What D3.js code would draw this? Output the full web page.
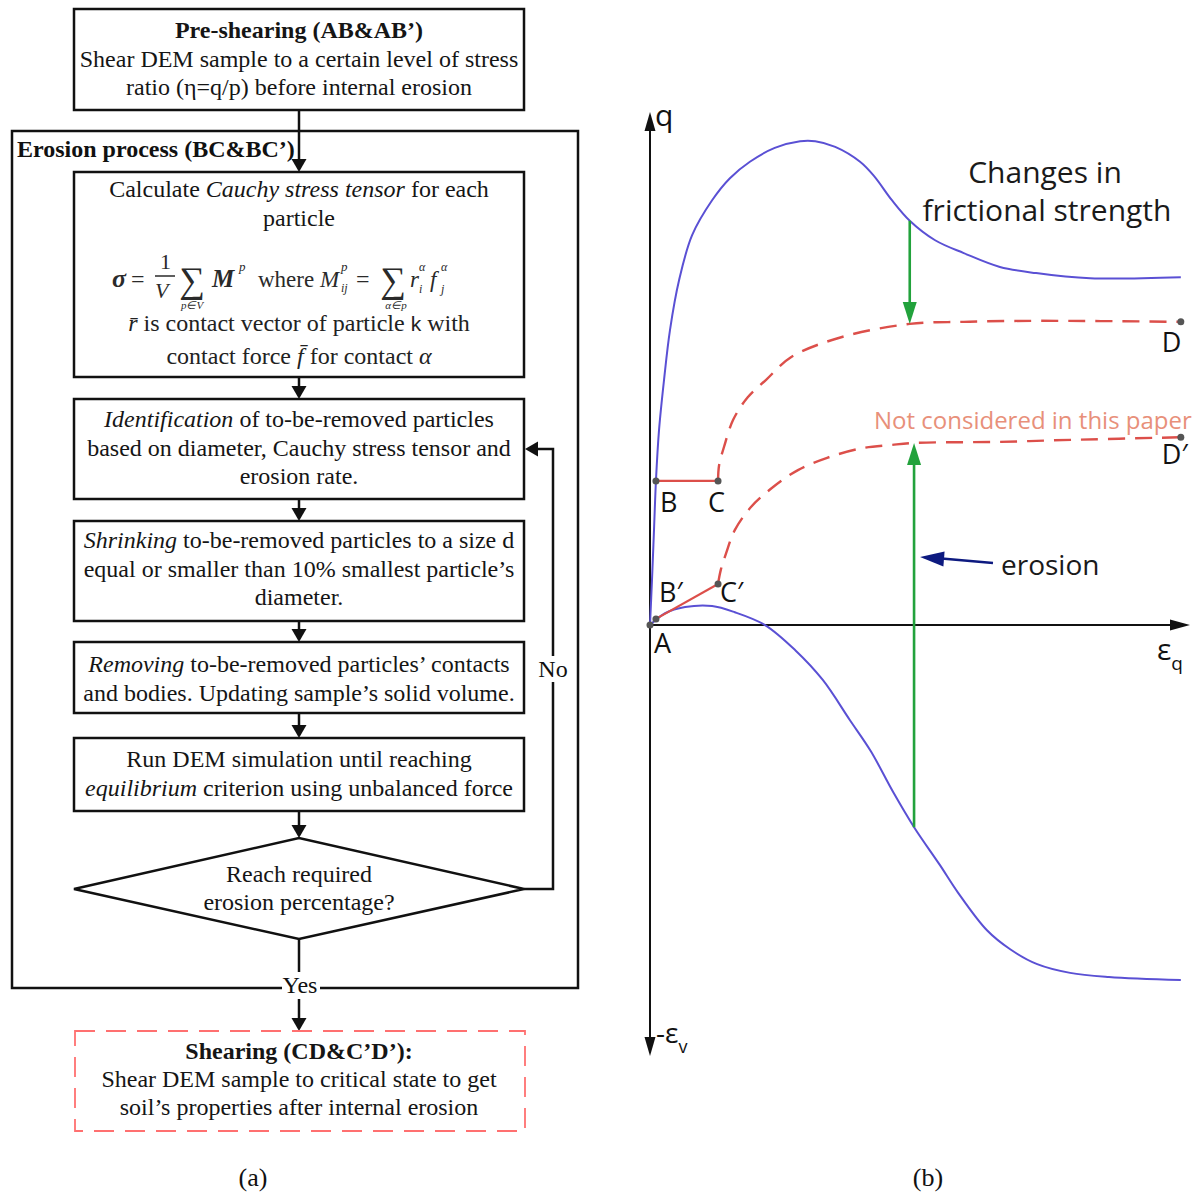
<!DOCTYPE html>
<html>
<head>
<meta charset="utf-8">
<script src="https://cdn.jsdelivr.net/npm/d3@7"></script>
<style>
body { margin: 0; background: #fff; }
</style>
</head>
<body>
<div id="fig"></div>
<script>
const width = 1197;
const height = 1198;

// ---- (a) flowchart text, each line is a list of [text, style] runs
const preShearing = [
    [["Pre-shearing (AB&AB’)", "b"]],
    [["Shear DEM sample to a certain level of stress", ""]],
    [["ratio (η=q/p) before internal erosion", ""]]
];
const erosionLabel = "Erosion process (BC&BC’)";
const cauchyTop = [
    [["Calculate ", ""], ["Cauchy stress tensor", "i"], [" for each", ""]],
    [["particle", ""]]
];
const cauchyBottom = [
    [["r\u0304", "i"], [" is contact vector of particle ", ""], ["k", "s"], [" with", ""]],
    [["contact force ", ""], ["f\u0304", "i"], [" for contact ", ""], ["α", "i"]]
];
const identification = [
    [["Identification", "i"], [" of to-be-removed particles", ""]],
    [["based on diameter, Cauchy stress tensor and", ""]],
    [["erosion rate.", ""]]
];
const shrinking = [
    [["Shrinking", "i"], [" to-be-removed particles to a size d", ""]],
    [["equal or smaller than 10% smallest particle’s", ""]],
    [["diameter.", ""]]
];
const removing = [
    [["Removing", "i"], [" to-be-removed particles’ contacts", ""]],
    [["and bodies. Updating sample’s solid volume.", ""]]
];
const running = [
    [["Run DEM simulation until reaching", ""]],
    [["equilibrium", "i"], [" criterion using unbalanced force", ""]]
];
const decision = [
    [["Reach required", ""]],
    [["erosion percentage?", ""]]
];
const shearing = [
    [["Shearing (CD&C’D’):", "b"]],
    [["Shear DEM sample to critical state to get", ""]],
    [["soil’s properties after internal erosion", ""]]
];

// ---- (b) stress-strain schematic, [eps_q, q] and [eps_q, -eps_v]
const peakCurve = [[0,0],[0.37,8.8],[0.74,18.5],[1.11,28.3],[1.67,38],[2.6,47.8],[3.7,57.5],[5.4,67.3],
    [7.8,76],[11.5,82.8],[14.8,87.1],[18.5,90.3],[23.1,93],[27.8,94.3],[30.6,94.3],[34.3,93.2],
    [38.9,90.3],[41.5,87.5],[44.8,82.8],[48.1,78.8],[52.8,75],[58.1,72.5],[64.8,69.8],[71.5,68.6],
    [81.5,67.6],[98.3,67.8]];
const volumeCurve = [[0,0],[2.8,2.3],[6.5,3.5],[11.5,3.7],[15.7,2.5],[21.3,0],[26.9,-4.9],[32,-10.7],
    [37,-18.5],[40.9,-24.6],[45,-32.5],[48.9,-39.4],[53.7,-46.8],[57,-52.1],[62.4,-59.5],[66.7,-63.2],
    [71.7,-66.1],[77.8,-67.8],[85,-68.6],[98.3,-69.2]];
const erodedCurve = [[12.6,28.1],[12.8,31.2],[13.7,34.7],[15.4,40],[18.1,44.4],[21.5,47.8],[26.1,52.2],
    [35.4,56.1],[48.1,58.7],[58.1,59.1],[71.5,59.3],[98.3,59.1]];
const erodedCurve2 = [[12.6,8.0],[13.1,10.7],[14.1,14],[15.7,18.5],[18.7,23],[22.8,26.9],[27.4,30.2],
    [32.8,32.6],[39.4,34.5],[44.6,35.1],[48.9,35.5],[64.6,35.7],[78,36.1],[98.3,36.6]];
const keyPoints = [
    { name: "A", x: 0, y: 0 },
    { name: "B", x: 1.1, y: 28.1 },
    { name: "C", x: 12.6, y: 28.1 },
    { name: "B′", x: 1.1, y: 1.2 },
    { name: "C′", x: 12.6, y: 8.0 },
    { name: "D", x: 98.3, y: 59.1 },
    { name: "D′", x: 98.3, y: 36.6 }
];
const frictionArrow = { x: 48.1, from: 78.8, to: 58.7 };
const erosionArrow = { x: 48.9, from: -39.4, to: 35.5 };

const svg = d3.select("#fig").append("svg")
    .attr("width", width)
    .attr("height", height)
    .style("font-family", "'Liberation Serif', 'Times New Roman', serif");

svg.append("rect")
    .attr("width", width)
    .attr("height", height)
    .attr("fill", "#fff");

// arrow head with tip at (tx, ty), pointing along angle
function head(g, tx, ty, angle, len, half, color) {
    const c = Math.cos(angle), s = Math.sin(angle);
    const bx = tx - c * len, by = ty - s * len;
    const pts = [[tx, ty], [bx - s * half, by + c * half], [bx + s * half, by - c * half]];
    g.append("path")
        .attr("d", "M" + pts.join("L") + "Z")
        .attr("fill", color);
}

function writeLines(g, lines, cx, first, gap, color) {
    lines.forEach((runs, i) => {
        const t = g.append("text")
            .attr("x", cx)
            .attr("y", first + i * gap)
            .attr("text-anchor", "middle")
            .attr("font-size", 24)
            .attr("fill", color || "#151515");
        runs.forEach(r => {
            const s = t.append("tspan").text(r[0]);
            if (r[1] === "b") s.attr("font-weight", "bold");
            if (r[1] === "i") s.attr("font-style", "italic");
            if (r[1] === "s") s.attr("font-family", "'Liberation Sans', Arial, sans-serif").attr("font-size", 21);
        });
    });
}

// ================= (a) flowchart =================
const fc = svg.append("g").attr("class", "flowchart");
const left = 74, right = 524, midX = 299;
const gap = 28.7;
const ink = "#111";

const boxes = [
    { lines: preShearing, top: 9, bottom: 110, first: 38 },
    { lines: identification, top: 399, bottom: 499, first: 427 },
    { lines: shrinking, top: 521, bottom: 621, first: 548 },
    { lines: removing, top: 642, bottom: 713, first: 672 },
    { lines: running, top: 738, bottom: 811, first: 767 }
];

// outer erosion frame
fc.append("rect")
    .attr("x", 12).attr("y", 131)
    .attr("width", 566).attr("height", 857)
    .attr("fill", "none").attr("stroke", ink).attr("stroke-width", 2.5);

// connector lines
const connectors = [[110, 172], [377, 399], [499, 521], [621, 642], [713, 738], [811, 838], [939, 1031]];
connectors.forEach(c => {
    fc.append("line")
        .attr("x1", midX).attr("x2", midX)
        .attr("y1", c[0]).attr("y2", c[1] - 10)
        .attr("stroke", ink).attr("stroke-width", 2.5);
    head(fc, midX, c[1], Math.PI / 2, 13, 7.5, ink);
});

fc.append("text")
    .attr("x", 17).attr("y", 157)
    .attr("font-size", 24).attr("font-weight", "bold")
    .attr("fill", ink)
    .text(erosionLabel);

boxes.forEach(b => {
    fc.append("rect")
        .attr("x", left).attr("y", b.top)
        .attr("width", right - left).attr("height", b.bottom - b.top)
        .attr("fill", "#fff").attr("stroke", ink).attr("stroke-width", 2.5);
    writeLines(fc, b.lines, midX, b.first, gap);
});

// Cauchy box with formula
fc.append("rect")
    .attr("x", left).attr("y", 172)
    .attr("width", right - left).attr("height", 205)
    .attr("fill", "#fff").attr("stroke", ink).attr("stroke-width", 2.5);
writeLines(fc, cauchyTop, midX, 197, gap);
writeLines(fc, cauchyBottom, midX, 331, 33, "#222");

const fm = fc.append("g").attr("fill", "#2a2a2a");
function ftext(tx, ty, str, size, style) {
    const t = fm.append("text").attr("x", tx).attr("y", ty).attr("font-size", size).text(str);
    if (style && style.indexOf("i") >= 0) t.attr("font-style", "italic");
    if (style && style.indexOf("b") >= 0) t.attr("font-weight", "bold");
    return t;
}
ftext(112, 287, "σ", 26, "bi");
ftext(131, 287, "=", 24, "");
ftext(160, 269, "1", 22, "");
fm.append("line").attr("x1", 155).attr("x2", 175).attr("y1", 276).attr("y2", 276)
    .attr("stroke", "#2a2a2a").attr("stroke-width", 1.5);
ftext(155, 298, "V", 22, "i");
ftext(192, 292, "∑", 36, "").attr("text-anchor", "middle");
ftext(192, 309, "p∈V", 11, "i").attr("text-anchor", "middle");
ftext(212, 287, "M", 25, "bi");
ftext(239, 271, "p", 13, "i");
ftext(258, 287, "where", 23, "");
ftext(320, 287, "M", 23, "i");
ftext(341, 271, "p", 13, "i");
ftext(341, 292, "ij", 12, "i");
ftext(356, 287, "=", 24, "");
ftext(393, 292, "∑", 36, "").attr("text-anchor", "middle");
ftext(396, 309, "α∈p", 11, "i").attr("text-anchor", "middle");
ftext(410, 287, "r", 23, "i");
ftext(419, 271, "α", 12, "i");
ftext(419, 293, "i", 12, "i");
ftext(430, 287, "f", 23, "i");
ftext(441, 271, "α", 12, "i");
ftext(441, 293, "j", 12, "i");

// decision diamond
fc.append("path")
    .attr("d", `M${left},889L${midX},838L${right},889L${midX},939Z`)
    .attr("fill", "#fff").attr("stroke", ink).attr("stroke-width", 2.5);
writeLines(fc, decision, midX, 882, 28);

// "No" loop back to identification box
fc.append("path")
    .attr("d", `M${right},889H553V449H${right + 12}`)
    .attr("fill", "none").attr("stroke", ink).attr("stroke-width", 2.5);
head(fc, right + 1, 449, Math.PI, 13, 7.5, ink);
fc.append("rect").attr("x", 540).attr("y", 656).attr("width", 28).attr("height", 26).attr("fill", "#fff");
fc.append("text").attr("x", 553).attr("y", 677).attr("text-anchor", "middle")
    .attr("font-size", 24).attr("fill", ink).text("No");

// "Yes" exit
fc.append("rect").attr("x", 282).attr("y", 972).attr("width", 38).attr("height", 27).attr("fill", "#fff");
fc.append("text").attr("x", midX + 1).attr("y", 993).attr("text-anchor", "middle")
    .attr("font-size", 24).attr("fill", ink).text("Yes");

// dashed shearing box
fc.append("rect")
    .attr("x", 75).attr("y", 1031)
    .attr("width", 450).attr("height", 100)
    .attr("fill", "none").attr("stroke", "#ff7070").attr("stroke-width", 1.8)
    .attr("stroke-dasharray", "20,11");
writeLines(fc, shearing, midX, 1059, 28);

svg.append("text").attr("x", 253).attr("y", 1186).attr("text-anchor", "middle")
    .attr("font-size", 26).attr("fill", ink).text("(a)");
svg.append("text").attr("x", 928).attr("y", 1186).attr("text-anchor", "middle")
    .attr("font-size", 26).attr("fill", ink).text("(b)");

// ================= (b) schematic =================
const x = d3.scaleLinear().domain([0, 100]).range([650, 1190]);
const y = d3.scaleLinear().domain([-84, 100]).range([1056, 112]);

const ch = svg.append("g")
    .attr("class", "schematic")
    .style("font-family", "'Open Sans', 'DejaVu Sans', sans-serif");

// axes
ch.append("line")
    .attr("x1", x(0)).attr("x2", x(0))
    .attr("y1", y(-84) - 16).attr("y2", y(100) + 16)
    .attr("stroke", ink).attr("stroke-width", 2);
head(ch, x(0), y(100), -Math.PI / 2, 19, 5.5, ink);
head(ch, x(0), y(-84), Math.PI / 2, 19, 5.5, ink);
ch.append("line")
    .attr("x1", x(0)).attr("x2", x(100) - 16)
    .attr("y1", y(0)).attr("y2", y(0))
    .attr("stroke", ink).attr("stroke-width", 2);
head(ch, x(100), y(0), 0, 20, 5.5, ink);

const line = d3.line()
    .x(d => x(d[0]))
    .y(d => y(d[1]))
    .curve(d3.curveCatmullRom.alpha(0.5));

const blue = "#5a50d4";
const red = "#dc4f4a";
const green = "#22a23c";

ch.append("path").datum(peakCurve)
    .attr("d", line).attr("fill", "none")
    .attr("stroke", blue).attr("stroke-width", 2);
ch.append("path").datum(volumeCurve)
    .attr("d", line).attr("fill", "none")
    .attr("stroke", blue).attr("stroke-width", 2);

[erodedCurve, erodedCurve2].forEach(c => {
    ch.append("path").datum(c)
        .attr("d", line).attr("fill", "none")
        .attr("stroke", red).attr("stroke-width", 2.4)
        .attr("stroke-dasharray", "17,10");
});

const pt = {};
keyPoints.forEach(p => { pt[p.name] = p; });
[["B", "C"], ["B′", "C′"]].forEach(s => {
    ch.append("line")
        .attr("x1", x(pt[s[0]].x)).attr("y1", y(pt[s[0]].y))
        .attr("x2", x(pt[s[1]].x)).attr("y2", y(pt[s[1]].y))
        .attr("stroke", red).attr("stroke-width", 2.2);
});

// green arrows
ch.append("line")
    .attr("x1", x(frictionArrow.x)).attr("x2", x(frictionArrow.x))
    .attr("y1", y(frictionArrow.from)).attr("y2", y(frictionArrow.to) - 18)
    .attr("stroke", green).attr("stroke-width", 2.6);
head(ch, x(frictionArrow.x), y(frictionArrow.to), Math.PI / 2, 22, 7, green);
ch.append("line")
    .attr("x1", x(erosionArrow.x)).attr("x2", x(erosionArrow.x))
    .attr("y1", y(erosionArrow.from)).attr("y2", y(erosionArrow.to) + 18)
    .attr("stroke", green).attr("stroke-width", 2.6);
head(ch, x(erosionArrow.x), y(erosionArrow.to), -Math.PI / 2, 22, 7, green);

// erosion pointer
ch.append("line")
    .attr("x1", 993).attr("y1", 563).attr("x2", 936).attr("y2", 558)
    .attr("stroke", "#0d1a80").attr("stroke-width", 2.6);
head(ch, x(erosionArrow.x) + 6, 557, Math.PI + 0.08, 24, 7.5, "#0d1a80");

// point markers and letters
const labelOffset = { "A": [4, 28], "B": [4, 31], "C": [-10, 31], "B′": [3, -17], "C′": [2, 18], "D": [-19, 30], "D′": [-19, 27] };
ch.selectAll("circle.key")
    .data(keyPoints)
    .enter().append("circle")
    .attr("class", "key")
    .attr("cx", d => x(d.x)).attr("cy", d => y(d.y))
    .attr("r", 3.5).attr("fill", "#555");
ch.selectAll("text.key")
    .data(keyPoints)
    .enter().append("text")
    .attr("class", "key")
    .attr("x", d => x(d.x) + labelOffset[d.name][0])
    .attr("y", d => y(d.y) + labelOffset[d.name][1])
    .attr("font-size", 27).attr("fill", ink)
    .text(d => d.name);

// axis titles
ch.append("text").attr("x", 655).attr("y", 126).attr("font-size", 30).attr("fill", ink).text("q");
const ex = ch.append("text").attr("x", 1157).attr("y", 660).attr("font-size", 30).attr("fill", ink);
ex.append("tspan").text("ε");
ex.append("tspan").attr("font-size", 19).attr("dy", 10).text("q");
const ev = ch.append("text").attr("x", 656).attr("y", 1043).attr("font-size", 28).attr("fill", ink);
ev.append("tspan").text("-ε");
ev.append("tspan").attr("font-size", 18).attr("dy", 10).text("v");

// annotations
ch.append("text").attr("x", 1045).attr("y", 183).attr("text-anchor", "middle")
    .attr("font-size", 30).attr("fill", "#1a1a1a").text("Changes in");
ch.append("text").attr("x", 1047).attr("y", 221).attr("text-anchor", "middle")
    .attr("font-size", 30).attr("fill", "#1a1a1a").text("frictional strength");
ch.append("text").attr("x", 874).attr("y", 429)
    .attr("font-size", 24).attr("fill", "#e8907a").text("Not considered in this paper");
ch.append("text").attr("x", 1001).attr("y", 575)
    .attr("font-size", 28).attr("fill", "#1a1a1a").text("erosion");
</script>
</body>
</html>
